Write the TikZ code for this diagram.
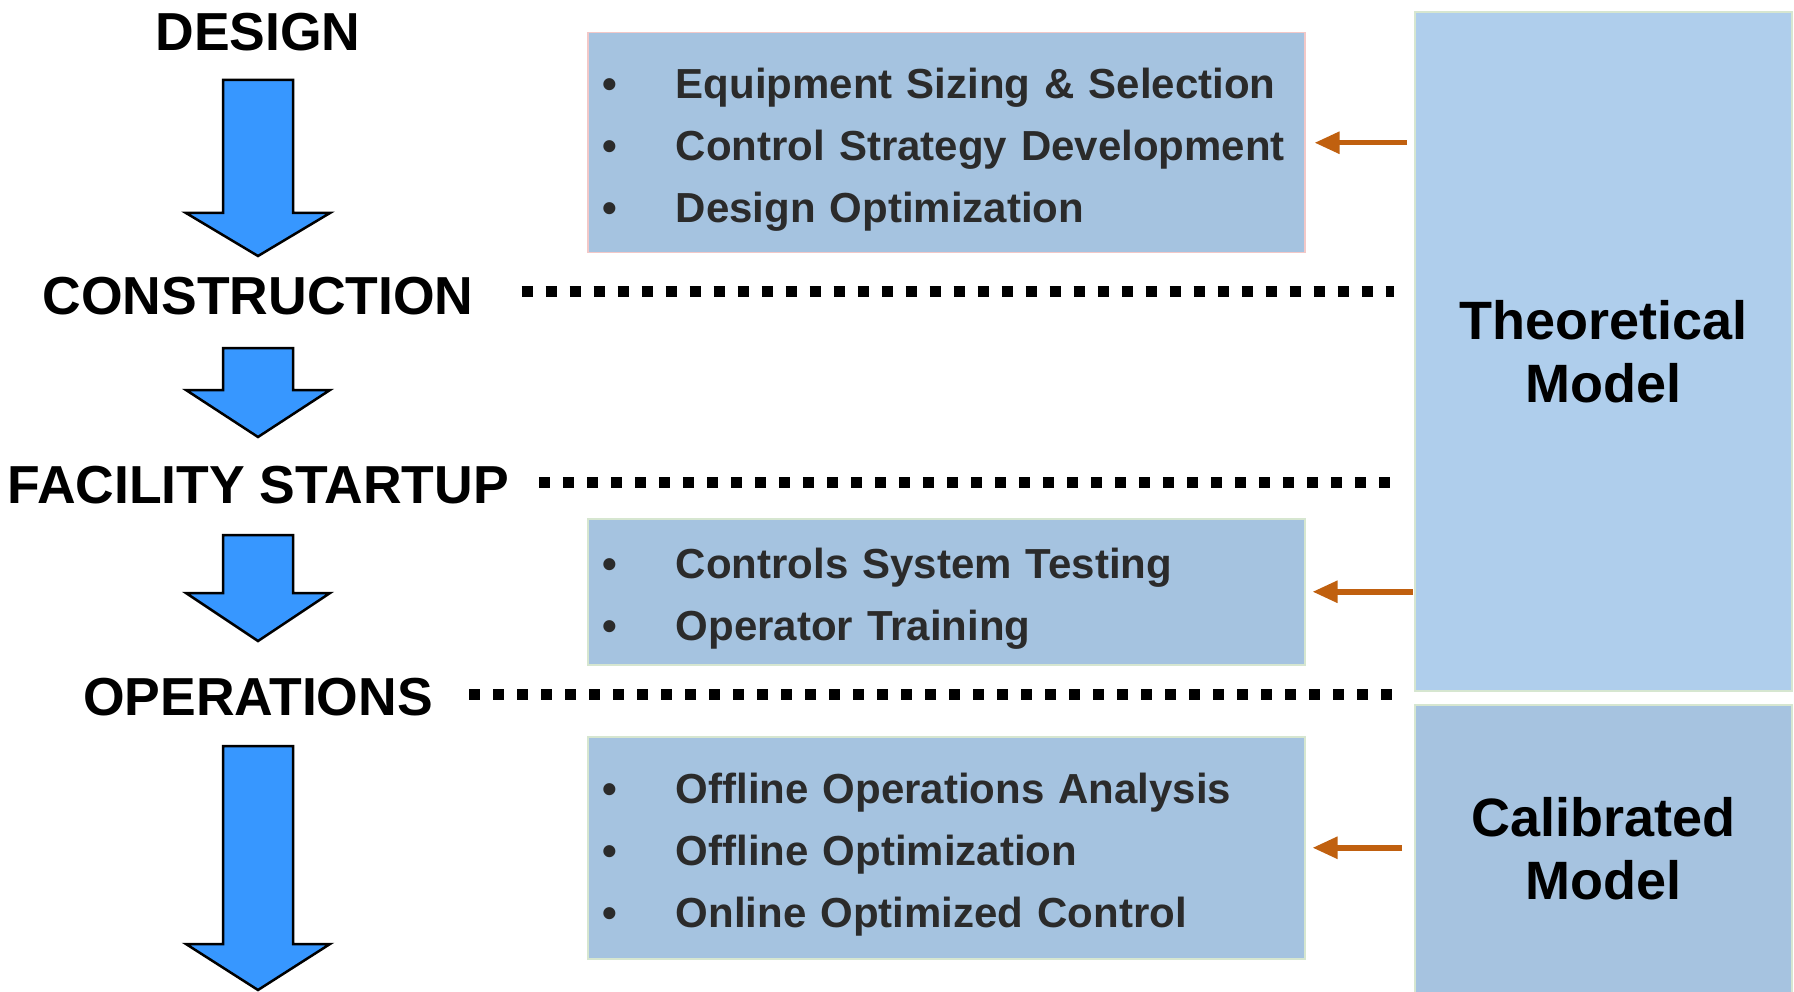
\documentclass[tikz,border=0pt]{standalone}
\usepackage{fontspec}
\setmainfont{Liberation Sans}
\usetikzlibrary{arrows.meta}
\definecolor{boxblue}{HTML}{A5C3E0}
\definecolor{theoblue}{HTML}{AFCEEC}
\definecolor{calblue}{HTML}{A6C3E0}
\definecolor{arrblue}{HTML}{3797FF}
\definecolor{orng}{HTML}{C0600F}
\definecolor{txtgray}{HTML}{2B2B2B}
\definecolor{edgered}{HTML}{F2C8C8}
\definecolor{edgegreen}{HTML}{D6E6D0}
\tikzset{pics/downarr/.style 2 args={code={%
  \path[bluearr] (-35,0) -- (35,0) -- (35,#1) -- (72,#1) -- (0,#2) -- (-72,#1) -- (-35,#1) -- cycle;}}}
\newcommand\itm[1]{\hspace*{10pt}\makebox[73pt][l]{•}#1}
\newcommand\topstrut{\rule{0pt}{45pt}}
\newcommand\nohyph{\hyphenpenalty=10000\relax}
\begin{document}
\begin{tikzpicture}[x=1pt,y=-1pt,
  stage/.style={font=\fontsize{53.5}{60}\selectfont\bfseries, text=black, inner sep=0pt},
  itembox/.style={fill=boxblue, draw=#1, line width=1.5pt, text width=707pt, inner xsep=5pt, inner ysep=0pt, align=left, anchor=north west, font=\nohyph\fontsize{42}{62}\selectfont\bfseries, text=txtgray},
  modelbox/.style={fill=#1, draw=edgegreen, line width=2pt, minimum width=377pt, anchor=north west, inner sep=0pt, align=center, font=\fontsize{54}{63}\selectfont\bfseries, text=black},
  dotline/.style={line width=11pt, dash pattern=on 11pt off 13pt},
  orarrow/.style={draw=orng, line width=5.5pt, -{Triangle[length=25pt,width=21pt]}},
  bluearr/.style={fill=arrblue, draw=black, line width=2.5pt, line join=miter},
]
\useasboundingbox[fill=white] (0,0) rectangle (1794,992);

% stages
\node[stage] (design) at (258,32) {DESIGN};
\node[stage] (construction) at (258,296) {CONSTRUCTION};
\node[stage] (startup) at (258,485) {FACILITY STARTUP};
\node[stage] (operations) at (258,697) {OPERATIONS};

% block arrows
\pic at (258,80) {downarr={133}{176}};
\pic at (258,348) {downarr={42}{89}};
\pic at (258,535) {downarr={58}{106}};
\pic at (258,746) {downarr={198}{244}};

% model boxes
\node[modelbox=theoblue, minimum height=679pt] (theo) at (1414,11) {Theoretical\\Model};
\node[modelbox=calblue, minimum height=288pt] (cal) at (1414,704) {Calibrated\\Model};

% item boxes
\node[itembox=edgered, minimum height=220pt] (box1) at (587,32)
  {\topstrut\itm{Equipment Sizing \& Selection}\\
   \itm{Control Strategy Development}\\
   \itm{Design Optimization}};
\node[itembox=edgegreen, minimum height=146pt] (box2) at (587,518)
  {\topstrut\itm{Controls System Testing}\\
   \itm{Operator Training}};
\node[itembox=edgegreen, minimum height=222pt] (box3) at (587,736)
  {\topstrut\itm{Offline Operations Analysis}\\
   \itm{Offline Optimization}\\
   \itm{Online Optimized Control}};

% dotted separators
\coordinate (d1) at ([xshift=48pt,yshift=4pt]construction.east);
\coordinate (d2) at ([xshift=30pt,yshift=3pt]startup.east);
\coordinate (d3) at ([xshift=36pt,yshift=3pt]operations.east);
\draw[dotline, shorten >=20pt] (d1) -- (d1 -| theo.west);
\draw[dotline, shorten >=20pt] (d2) -- (d2 -| theo.west);
\draw[dotline, shorten >=20pt] (d3) -- (d3 -| theo.west);

% orange arrows
\draw[orarrow, shorten <=7pt, shorten >=9pt] (theo.west |- box1.east) -- (box1.east);
\draw[orarrow, shorten <=1pt, shorten >=7pt] (theo.west |- box2.east) -- (box2.east);
\draw[orarrow, shorten <=12pt, shorten >=7pt] (cal.west |- box3.east) -- (box3.east);
\end{tikzpicture}
\end{document}
